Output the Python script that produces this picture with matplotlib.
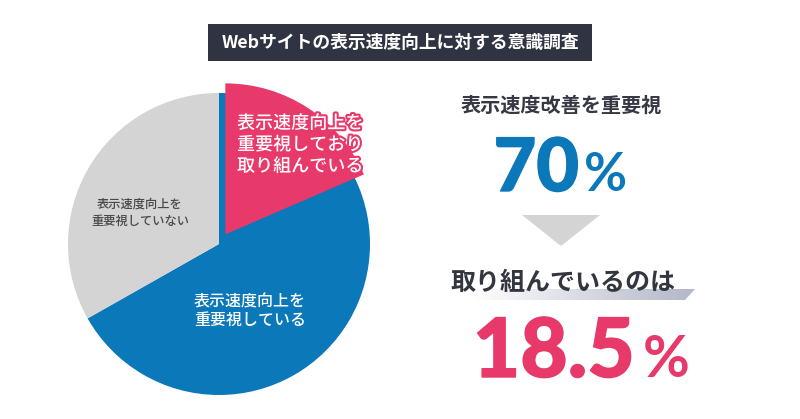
import numpy as np
import matplotlib
matplotlib.use('Agg')
import matplotlib.pyplot as plt
import matplotlib.patheffects as pe
from matplotlib.patches import Polygon

plt.rcParams['font.family'] = ['Noto Sans CJK JP', 'DejaVu Sans']

# データ
title = 'Webサイトの表示速度向上に対する意識調査'
pie_labels = ['表示速度向上を\n重要視している', '表示速度向上を\n重要視していない']
pie_shares = [66.8, 33.2]          # 円グラフ上の見た目の割合
acting_label = '表示速度向上を\n重要視しており\n取り組んでいる'
acting_share = 18.5
important_pct = '70'
acting_pct = '18.5'
headline_1 = '表示速度改善を重要視'
headline_2 = '取り組んでいるのは'

BLUE = '#0b78b9'
GRAY = '#d4d4d4'
PINK = '#e8396b'
DARK = '#363944'

W, H = 800, 419
fig = plt.figure(figsize=(W / 100, H / 100), dpi=100)
fig.patch.set_facecolor('white')

# 円グラフ (中心 219,244 / 半径 151px)
cx, cy, box = 219, 244, 320
ax_pie = fig.add_axes([(cx - box / 2) / W, (H - cy - box / 2) / H, box / W, box / H])
r = 151 / (box / 2)
ax_pie.pie(pie_shares, colors=[BLUE, GRAY], startangle=90, counterclock=False,
           radius=r, wedgeprops=dict(linewidth=0))
# 取り組んでいる層を少しずらして重ねる
ax_pie.pie([acting_share, 100 - acting_share], colors=[PINK, 'none'],
           startangle=90, counterclock=False, radius=r,
           explode=[0.072, 0], wedgeprops=dict(linewidth=0))
ax_pie.set_xlim(-1, 1)
ax_pie.set_ylim(-1, 1)
ax_pie.set_aspect('equal')
ax_pie.axis('off')

# 文字用のオーバーレイ (ピクセル座標)
ax = fig.add_axes([0, 0, 1, 1])
ax.set_xlim(0, W)
ax.set_ylim(H, 0)
ax.axis('off')

# タイトル
ax.add_patch(Polygon([[208, 24], [592, 24], [592, 61], [208, 61]],
                     closed=True, facecolor='#2f3342', edgecolor='none'))
ax.text(400, 43, title, color='white', fontsize=12.8, fontweight='bold',
        ha='center', va='center')

# 円グラフ内ラベル
ax.text(300, 145, acting_label, color='white', fontsize=13, fontweight='medium',
        ha='center', va='center', linespacing=1.25,
        path_effects=[pe.withStroke(linewidth=3, foreground=PINK)])
ax.text(250, 311, pie_labels[0], color='white', fontsize=11.5, fontweight='medium',
        ha='center', va='center', linespacing=1.15)
ax.text(140, 213, pie_labels[1], color='#484848', fontsize=8.8, fontweight='medium',
        ha='center', va='center', linespacing=1.45)

# 右側
ax.text(561, 105, headline_1, color=DARK, fontsize=14.5, fontweight='bold',
        ha='center', va='center')
num_font = ['Lato', 'DejaVu Sans']
thick_b = [pe.withStroke(linewidth=1, foreground=BLUE)]
thick_p = [pe.withStroke(linewidth=1, foreground=PINK)]
ax.text(579, 191, important_pct, color=BLUE, fontsize=53, fontweight='black',
        family=num_font, ha='right', va='baseline', path_effects=thick_b)
ax.text(584, 191, '%', color=BLUE, fontsize=38, fontweight='bold',
        family=num_font, ha='left', va='baseline')

ax.add_patch(Polygon([[522, 215], [600, 215], [561, 246]], closed=True,
                     facecolor=GRAY, edgecolor='none'))

# グラデーションの帯
bar = Polygon([[470, 289], [695, 289], [685, 300], [470, 300]], closed=True,
              facecolor='none', edgecolor='none')
ax.add_patch(bar)
grad = np.linspace(0, 1, 256).reshape(1, -1)
cmap = matplotlib.colors.LinearSegmentedColormap.from_list(
    'band', ['#ffffff', '#d8dbe3', '#b2b7c6'])
img = ax.imshow(grad, extent=[470, 695, 300, 289], cmap=cmap, aspect='auto',
                zorder=1)
img.set_clip_path(bar)
ax.set_xlim(0, W)
ax.set_ylim(H, 0)

ax.text(563, 283, headline_2, color='#33363f', fontsize=18, fontweight='bold',
        ha='center', va='center', zorder=3)

ax.text(635, 377, acting_pct, color=PINK, fontsize=59, fontweight='black',
        family=num_font, ha='right', va='baseline', path_effects=thick_p)
ax.text(643, 377, '%', color=PINK, fontsize=41, fontweight='bold',
        family=num_font, ha='left', va='baseline')

fig.savefig('out.png', dpi=100)
